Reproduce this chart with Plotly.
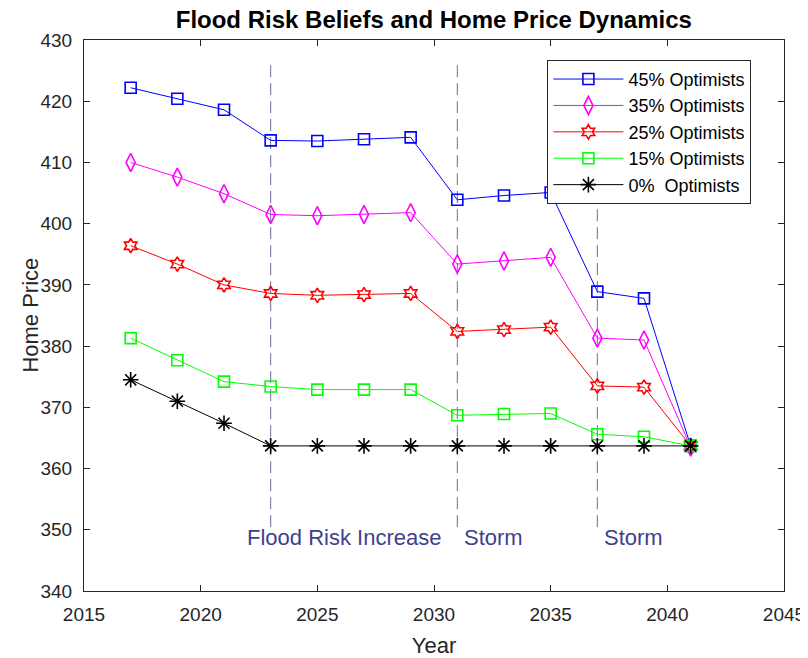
import plotly.graph_objects as go

years = [2017, 2019, 2021, 2023, 2025, 2027, 2029, 2031, 2033, 2035, 2037, 2039, 2041]

opt45 = [422.2, 420.4, 418.6, 413.6, 413.5, 413.8, 414.1, 403.9, 404.6, 405.1, 388.9, 387.8, 363.7]
opt35 = [410.0, 407.6, 404.9, 401.5, 401.3, 401.5, 401.8, 393.4, 393.9, 394.5, 381.3, 381.0, 363.5]
opt25 = [396.4, 393.4, 390.0, 388.6, 388.3, 388.4, 388.6, 382.4, 382.7, 383.1, 373.5, 373.3, 363.7]
opt15 = [381.3, 377.7, 374.2, 373.4, 372.9, 372.9, 372.9, 368.7, 368.9, 369.0, 365.6, 365.2, 363.7]
opt0 = [374.5, 371.0, 367.4, 363.7, 363.7, 363.7, 363.7, 363.7, 363.7, 363.7, 363.7, 363.7, 363.7]

event_years = [2023, 2031, 2037]
event_labels = ["Flood Risk Increase", "Storm", "Storm"]
event_label_x = [2021.9, 2031.2, 2037.2]
event_span = [425.9, 349.5]
label_y = 348.8

series = [
    ("45% Optimists", opt45, "#0000ff", "square-open", 11),
    ("35% Optimists", opt35, "#ff00ff", "diamond-tall-open", 13),
    ("25% Optimists", opt25, "#ff0000", "hexagram-open", 11),
    ("15% Optimists", opt15, "#00ff00", "square-open", 11),
    ("0%  Optimists", opt0, "#000000", "asterisk-open", 13),
]

fig = go.Figure()

for name, vals, color, sym, size in series:
    fig.add_trace(go.Scatter(
        x=years, y=vals, name=name, mode="lines+markers",
        line=dict(color=color, width=1),
        marker=dict(symbol=sym, size=size, color=color, line=dict(color=color, width=1.6)),
    ))

# dashed event markers
for yr in event_years:
    fig.add_shape(type="line", x0=yr, x1=yr, y0=event_span[0], y1=event_span[1],
                  xref="x", yref="y", layer="below",
                  line=dict(color="#6b6b9e", width=1, dash="12px,6px"))

for lx, txt in zip(event_label_x, event_labels):
    fig.add_annotation(x=lx, y=label_y, text=txt, showarrow=False,
                       xanchor="left", yanchor="middle",
                       font=dict(size=22, color="#3f3f8f", family="Liberation Sans, Arial"))

# y axis title placed by hand so it sits closer to the tick labels
fig.add_annotation(x=-0.077, y=0.5, xref="paper", yref="paper", text="Home Price",
                   textangle=-90, showarrow=False, xanchor="center", yanchor="middle",
                   font=dict(size=22, color="#262626"))

axis_style = dict(
    showline=True, linecolor="#262626", linewidth=1, mirror="ticks",
    ticks="inside", ticklen=6, tickcolor="#262626", showgrid=False, zeroline=False,
    tickfont=dict(size=19, color="#262626"), automargin=False,
)

# page body adds an 8px offset, margins account for it
fig.update_layout(
    width=808, height=658,
    paper_bgcolor="white", plot_bgcolor="white",
    font=dict(family="Liberation Sans, Arial", color="#262626"),
    title=dict(text="<b>Flood Risk Beliefs and Home Price Dynamics</b>", x=0.527, xanchor="center",
               y=0.995, yanchor="top", font=dict(size=24, color="#000000")),
    margin=dict(l=76, r=32, t=32, b=75),
    xaxis=dict(range=[2015, 2045], tickvals=[2015, 2020, 2025, 2030, 2035, 2040, 2045],
               ticklabelstandoff=6,
               title=dict(text="Year", font=dict(size=22, color="#262626"), standoff=13), **axis_style),
    yaxis=dict(range=[340, 430], tickvals=list(range(340, 431, 10)),
               ticklabelstandoff=7, **axis_style),
    legend=dict(x=0.662, y=0.964, xanchor="left", yanchor="top",
                bgcolor="white", bordercolor="#262626", borderwidth=1,
                font=dict(size=18, color="#000000"), itemwidth=70,
                tracegroupgap=0),
    showlegend=True,
)

fig.write_html("out.html")
